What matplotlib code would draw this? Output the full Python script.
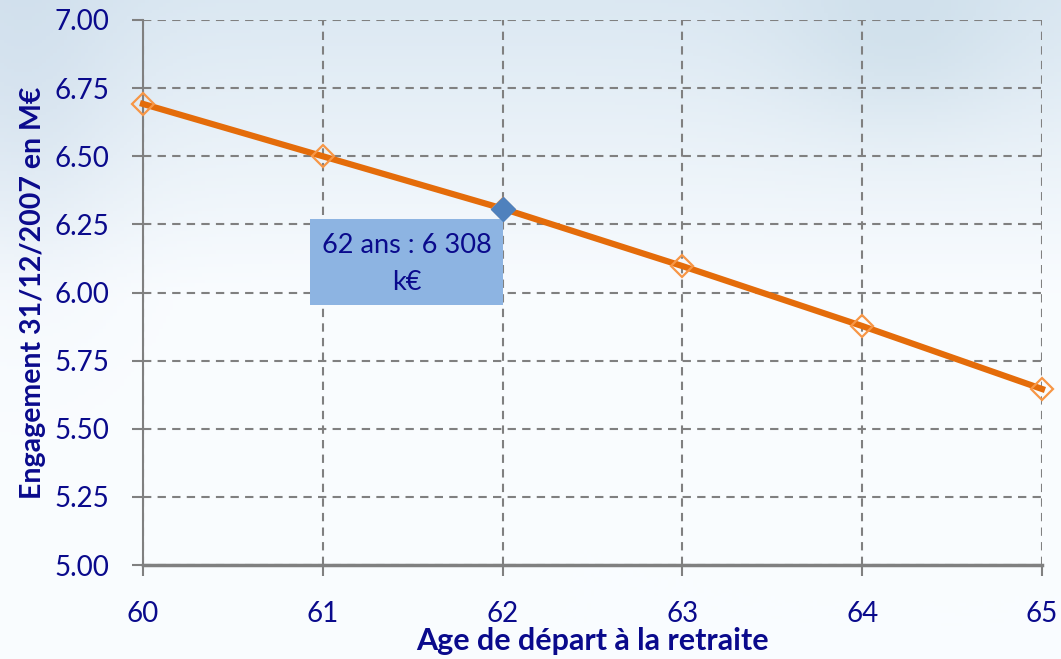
import numpy as np
import matplotlib
matplotlib.use("Agg")
import matplotlib.pyplot as plt
from matplotlib.patches import Rectangle

ages = [60, 61, 62, 63, 64, 65]
engagement = [6.692, 6.500, 6.308, 6.097, 5.877, 5.646]
highlight_age = 62
highlight_value = 6.308
y_ticks = [5.00, 5.25, 5.50, 5.75, 6.00, 6.25, 6.50, 6.75, 7.00]
annot_text = "62 ans : 6 308\nk€"
xlabel = "Age de départ à la retraite"
ylabel = "Engagement 31/12/2007 en M€"

navy = "#0a0a8c"
plt.rcParams['font.family'] = ['Lato', 'DejaVu Sans']

fig = plt.figure(figsize=(10.61, 6.59), dpi=100)

# background gradient
bg = fig.add_axes([0, 0, 1, 1], zorder=-10)
h, w = 200, 300
yy, xx = np.mgrid[0:1:h*1j, 0:1:w*1j]
top = np.array([0.86, 0.91, 0.95])
bot = np.array([0.98, 0.99, 1.0])
t = np.clip(yy * 2.2, 0, 1)[..., None]
img = top * (1 - t) + bot * t
blob = np.exp(-(((xx - 0.85) / 0.12) ** 2 + ((yy - 0.05) / 0.15) ** 2))[..., None]
img = img * (1 - 0.3 * blob) + np.array([0.70, 0.80, 0.86]) * 0.3 * blob
blob2 = np.exp(-(((xx - 0.02) / 0.1) ** 2 + ((yy - 0.1) / 0.3) ** 2))[..., None]
img = img * (1 - 0.3 * blob2) + np.array([0.72, 0.80, 0.88]) * 0.3 * blob2
bg.imshow(img, aspect='auto', extent=[0, 1, 0, 1])
bg.axis('off')

ax = fig.add_axes([143/1061, 1 - 565/659, (1042-143)/1061, (565-20)/659])
ax.patch.set_alpha(0)

ax.plot(ages, engagement, color="#E46C0A", lw=4.5, zorder=3,
        marker='D', markersize=11, markerfacecolor='none',
        markeredgecolor="#F79646", markeredgewidth=1.6, clip_on=False)
ax.plot([highlight_age], [highlight_value], marker='D', markersize=12,
        color="#4F81BD", ls='none', zorder=5, clip_on=False)

ax.set_xlim(60, 65)
ax.set_ylim(5.0, 7.0)
ax.set_xticks(ages)
ax.set_yticks(y_ticks)
ax.set_yticklabels([f"{v:.2f}" for v in y_ticks])
ax.grid(True, color="#808080", ls=(0, (4, 3)), lw=1.5)
for s in ['top', 'right']:
    ax.spines[s].set_visible(False)
ax.spines['left'].set_color("#808080")
ax.spines['left'].set_linewidth(1.5)
ax.spines['bottom'].set_color("#808080")
ax.spines['bottom'].set_linewidth(2.5)
ax.tick_params(axis='both', colors="#808080", labelcolor=navy, labelsize=20,
               length=8, width=1.5)
ax.tick_params(axis='x', pad=18)
ax.tick_params(axis='y', pad=16)

ax.set_xlabel(xlabel, fontsize=22, fontweight='bold', color=navy, labelpad=0)
ax.set_ylabel(ylabel, fontsize=20.5, fontweight='bold', color=navy, labelpad=6)

# annotation box
ax.add_patch(Rectangle((60.929, 5.954), 62.002 - 60.929, 6.270 - 5.954,
                       facecolor="#8DB4E2", edgecolor='none', zorder=4))
ax.text(61.465, 6.105, annot_text, ha='center', va='center', fontsize=19.5,
        color=navy, linespacing=1.6, zorder=6)

fig.savefig("out.png", dpi=100)
